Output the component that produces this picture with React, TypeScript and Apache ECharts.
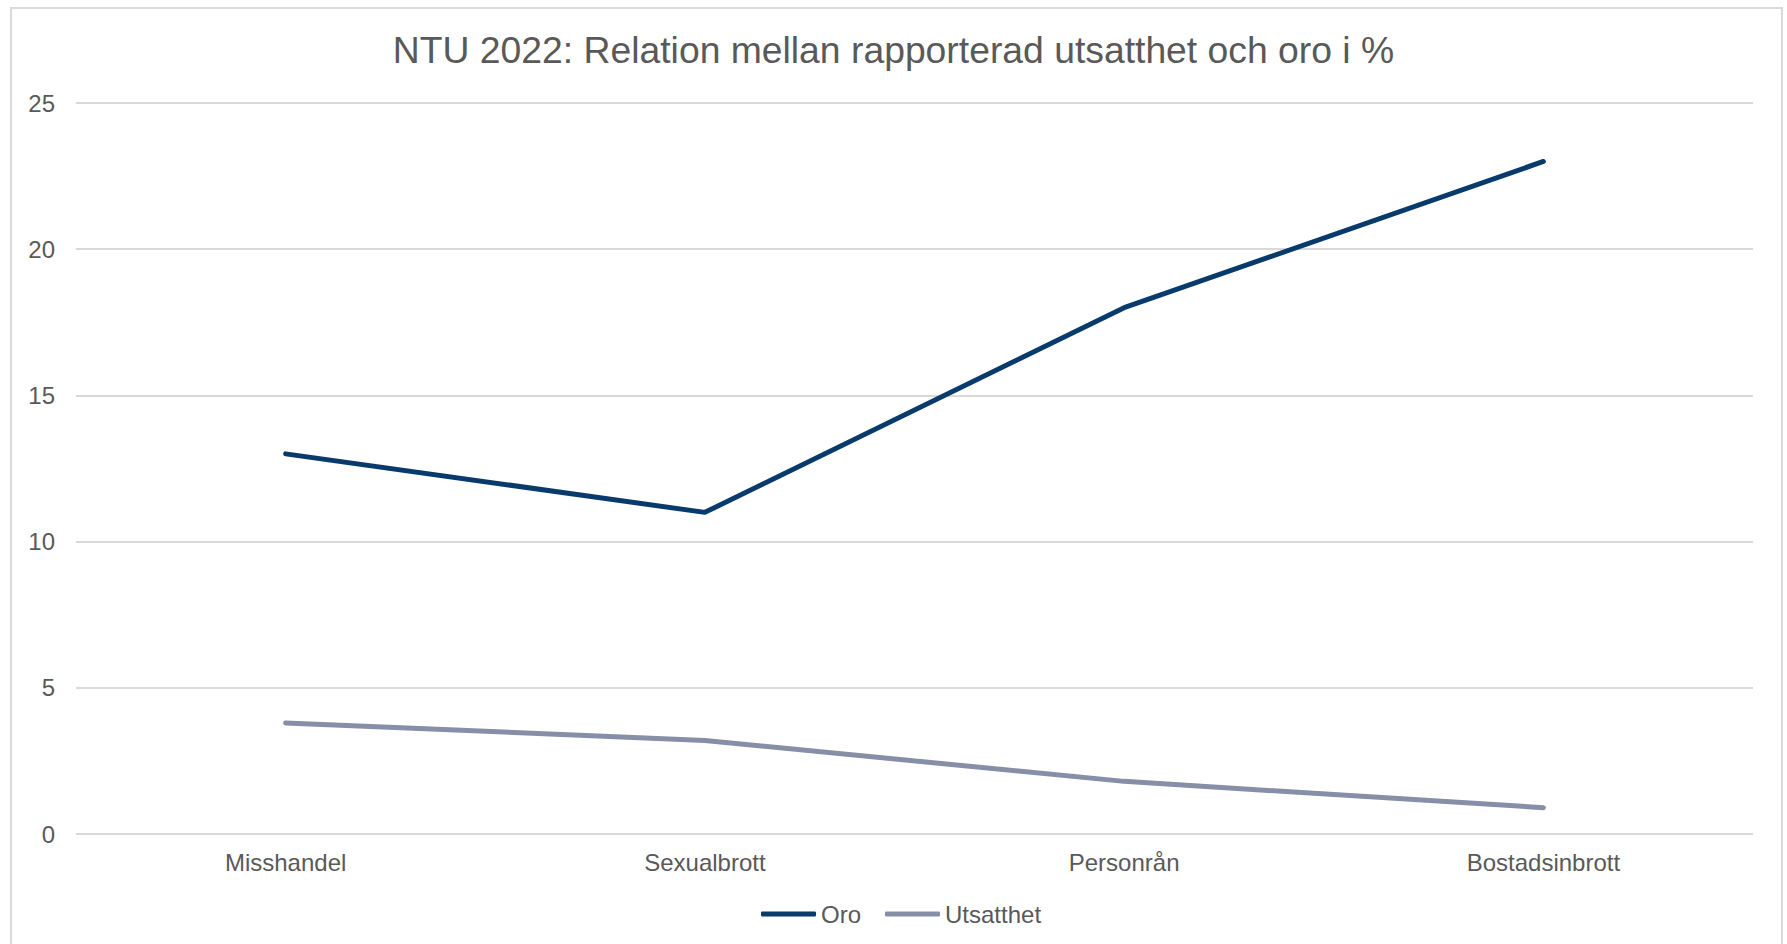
import React, { useEffect, useRef } from "react";
import * as echarts from "echarts";

const categories = ["Misshandel", "Sexualbrott", "Personrån", "Bostadsinbrott"];
const oro = [13, 11, 18, 23];
const utsatthet = [3.8, 3.2, 1.8, 0.9];
const yTicks = { min: 0, max: 25, interval: 5 };
const titleText = "NTU 2022: Relation mellan rapporterad utsatthet och oro i %";

export default function App() {
  const ref = useRef<HTMLDivElement>(null);
  useEffect(() => {
    if (!ref.current) return;
    const chart = echarts.init(ref.current, null, { renderer: "svg" });
    const font = "Liberation Sans, Arial, sans-serif";
    chart.setOption({
      animation: false,
      backgroundColor: "#ffffff",
      title: {
        text: titleText,
        left: "center",
        top: 26,
        padding: [5, 0, 5, 9],
        textStyle: { color: "#595959", fontSize: 37.3, fontWeight: "normal", fontFamily: font },
      },
      graphic: [
        {
          type: "rect",
          shape: { x: 11, y: 8, width: 1771, height: 960 },
          style: { fill: "none", stroke: "#d9d9d9", lineWidth: 2 },
          silent: true,
        },
      ],
      legend: {
        bottom: 13,
        left: 756,
        icon: "roundRect",
        itemWidth: 55,
        itemHeight: 5,
        itemGap: 24,
        textStyle: { color: "#595959", fontSize: 24, fontFamily: font },
        data: ["Oro", "Utsatthet"],
      },
      grid: { left: 76, right: 34, top: 103, bottom: 110, containLabel: false },
      xAxis: {
        type: "category",
        data: categories,
        boundaryGap: true,
        axisLine: { show: false },
        axisTick: { show: false },
        axisLabel: { color: "#595959", fontSize: 24, fontFamily: font, margin: 16 },
      },
      yAxis: {
        type: "value",
        min: yTicks.min,
        max: yTicks.max,
        interval: yTicks.interval,
        axisLine: { show: false },
        axisTick: { show: false },
        axisLabel: { color: "#595959", fontSize: 24, fontFamily: font, margin: 21 },
        splitLine: { lineStyle: { color: "#d9d9d9", width: 2 } },
      },
      series: [
        {
          name: "Oro",
          type: "line",
          data: oro,
          symbol: "none",
          lineStyle: { color: "#083b6b", width: 5, cap: "round", join: "round" },
          itemStyle: { color: "#083b6b" },
        },
        {
          name: "Utsatthet",
          type: "line",
          data: utsatthet,
          symbol: "none",
          lineStyle: { color: "#868fa7", width: 5, cap: "round", join: "round" },
          itemStyle: { color: "#868fa7" },
        },
      ],
    });
    return () => chart.dispose();
  }, []);
  return (
    <div
      ref={ref}
      style={{ position: "absolute", left: 0, top: 0, width: 1787, height: 944 }}
    />
  );
}
